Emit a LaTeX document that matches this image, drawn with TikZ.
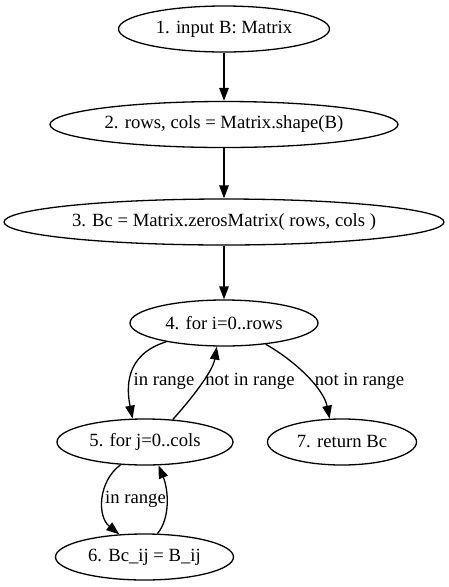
\documentclass[tikz,border=0pt]{standalone}
\usepackage{fontspec}
\setmainfont{Liberation Serif}
\usetikzlibrary{shapes.geometric,arrows.meta}
\tikzset{
  stmt/.style={draw, ellipse, line width=1.3pt, inner sep=0pt, minimum height=46pt,
    font=\fontsize{18.67}{22}\selectfont},
  elabel/.style={inner sep=0pt, font=\fontsize{18.67}{22}\selectfont},
  flow/.style={line width=1.3pt, -{Triangle[length=13pt,width=9.5pt]}}
}
\begin{document}
\begin{tikzpicture}[x=1pt,y=-1pt]
\useasboundingbox (0,0) rectangle (448,587);
\node[stmt, minimum width=211pt] (n1) at (224,29) {1. input B: Matrix};
\node[stmt, minimum width=348pt] (n2) at (224,124.5) {2. rows, cols = Matrix.shape(B)};
\node[stmt, minimum width=440pt] (n3) at (224,222) {3. Bc = Matrix.zerosMatrix( rows, cols )};
\node[stmt, minimum width=188pt] (n4) at (224,323) {4. for i=0..rows};
\node[stmt, minimum width=176pt] (n5) at (145,442) {5. for j=0..cols};
\node[stmt, minimum width=149pt] (n7) at (342,442) {7. return Bc};
\node[stmt, minimum width=178pt] (n6) at (144.5,557) {6. Bc\_ij = B\_ij};

\draw[flow] (n1) -- (n2);
\draw[flow] (n2) -- (n3);
\draw[flow] (n3) -- (n4);
\draw[flow] (n4.198) .. controls +(-42,13) and +(-6,-30) .. (n5.118);
\draw[flow] (n5.39) .. controls +(18,-20) and +(-4,25) .. (n4.253);
\draw[flow] (n4.333) .. controls +(30,17) and +(-6,-30) .. (n7.118);
\draw[flow] (n5.223) .. controls +(-23,17) and +(-22,-17.5) .. (n6.138);
\draw[flow] (n6.61) .. controls +(13,-15.5) and +(10,24.5) .. (n5.300);

\node[elabel] (l45) at (164,381) {in range};
\node[elabel] (l54) at (250,381) {not in range};
\node[elabel] (l47) at (359.5,381) {not in range};
\node[elabel] (l56) at (135.5,499) {in range};
\end{tikzpicture}
\end{document}
